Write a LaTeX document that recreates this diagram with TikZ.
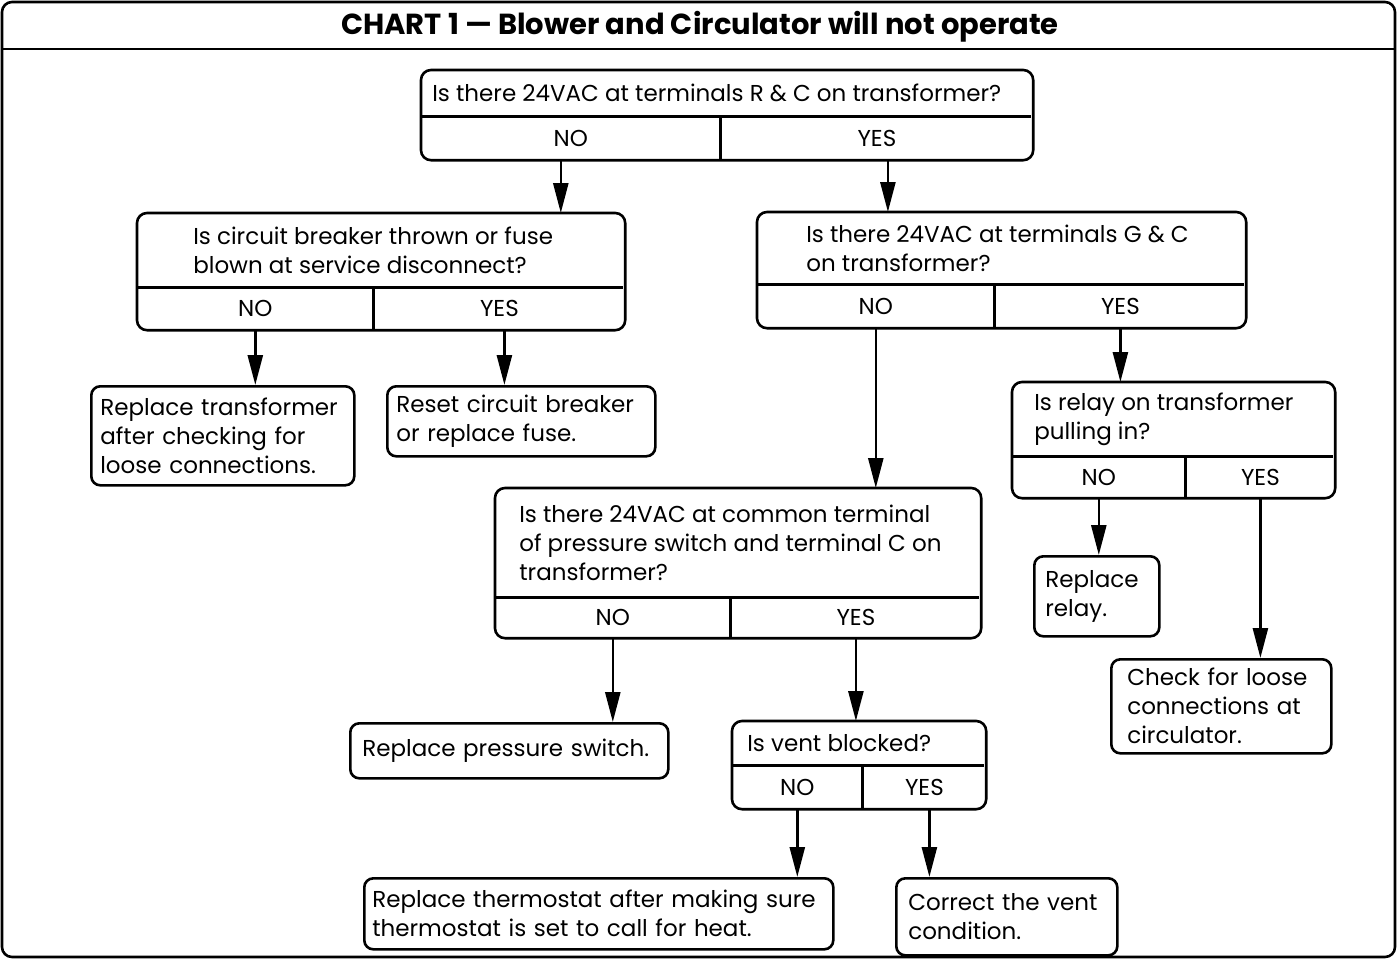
\documentclass[tikz,border=0pt]{standalone}
\usepackage{fontspec}
\setmainfont{Poppins}
\usetikzlibrary{arrows.meta,positioning}

\begin{document}
\begin{tikzpicture}[x=1pt,y=-1pt,line width=2.6pt,
          font=\fontsize{23}{29}\selectfont,
          frm/.style={draw, rounded corners=10pt},
          cell/.style={inner sep=0pt, anchor=north west},
          qt/.style={align=left, inner sep=0pt, anchor=west},
          lf/.style={draw, rounded corners=9pt, align=left, anchor=north west,
                     inner xsep=9pt, inner ysep=0pt},
          arr/.style={-{Triangle[length=30pt,width=15pt]}}]
        \useasboundingbox (0,0) rectangle (1397,959);
        \draw[frm] (2,2) rectangle (1395,957);
        \draw (2,49) -- (1395,49);
        \node[font=\bfseries\fontsize{29}{32}\selectfont] (title) at (700,27)
          {CHART 1 — Blower and Circulator will not operate};

        \node[cell, minimum width=607pt, minimum height=44pt] (q1) at (421,70) {};
        \node[qt] (q1txt) at ([xshift=10pt]q1.west)
          {Is there 24VAC at terminals R \& C on transformer?};
        \node[cell, minimum width=297pt, minimum height=41pt] (q1no) at (q1.south west) {NO};
        \node[cell, minimum width=310pt, minimum height=41pt] (q1yes) at (q1no.north east) {YES};
        \draw[frm] (q1.north west) rectangle (q1yes.south east);
        \draw (q1.south west) -- (q1.south east) (q1no.north east) -- (q1no.south east);

        \node[cell, minimum width=483pt, minimum height=72pt] (q2) at (137,213) {};
        \node[qt] (q2txt) at ([xshift=55pt]q2.west)
          {Is circuit breaker thrown or fuse\\blown at service disconnect?};
        \node[cell, minimum width=234pt, minimum height=40pt] (q2no) at (q2.south west) {NO};
        \node[cell, minimum width=249pt, minimum height=40pt] (q2yes) at (q2no.north east) {YES};
        \draw[frm] (q2.north west) rectangle (q2yes.south east);
        \draw (q2.south west) -- (q2.south east) (q2no.north east) -- (q2no.south east);

        \node[cell, minimum width=484pt, minimum height=70pt] (q3) at (757,212) {};
        \node[qt] (q3txt) at ([xshift=48pt]q3.west)
          {Is there 24VAC at terminals G \& C\\on transformer?};
        \node[cell, minimum width=235pt, minimum height=41pt] (q3no) at (q3.south west) {NO};
        \node[cell, minimum width=249pt, minimum height=41pt] (q3yes) at (q3no.north east) {YES};
        \draw[frm] (q3.north west) rectangle (q3yes.south east);
        \draw (q3.south west) -- (q3.south east) (q3no.north east) -- (q3no.south east);

        \node[cell, minimum width=318pt, minimum height=72pt] (q4) at (1012,382) {};
        \node[qt] (q4txt) at ([xshift=21pt]q4.west)
          {Is relay on transformer\\pulling in?};
        \node[cell, minimum width=171pt, minimum height=39pt] (q4no) at (q4.south west) {NO};
        \node[cell, minimum width=147pt, minimum height=39pt] (q4yes) at (q4no.north east) {YES};
        \draw[frm] (q4.north west) rectangle (q4yes.south east);
        \draw (q4.south west) -- (q4.south east) (q4no.north east) -- (q4no.south east);

        \node[cell, minimum width=481pt, minimum height=107pt] (q5) at (495,488) {};
        \node[qt] (q5txt) at ([xshift=23pt]q5.west)
          {Is there 24VAC at common terminal\\of pressure switch and terminal C on\\transformer?};
        \node[cell, minimum width=233pt, minimum height=38pt] (q5no) at (q5.south west) {NO};
        \node[cell, minimum width=248pt, minimum height=38pt] (q5yes) at (q5no.north east) {YES};
        \draw[frm] (q5.north west) rectangle (q5yes.south east);
        \draw (q5.south west) -- (q5.south east) (q5no.north east) -- (q5no.south east);

        \node[cell, minimum width=249pt, minimum height=42pt] (q6) at (732,721) {};
        \node[qt] (q6txt) at ([xshift=14pt]q6.west) {Is vent blocked?};
        \node[cell, minimum width=128pt, minimum height=41pt] (q6no) at (q6.south west) {NO};
        \node[cell, minimum width=121pt, minimum height=41pt] (q6yes) at (q6no.north east) {YES};
        \draw[frm] (q6.north west) rectangle (q6yes.south east);
        \draw (q6.south west) -- (q6.south east) (q6no.north east) -- (q6no.south east);

        \node[lf, text width=245pt, minimum height=99pt] (xfmr) at (90,385)
          {Replace transformer\\after checking for\\loose connections.};
        \node[lf, text width=250pt, minimum height=70pt] (reset) at (386,385)
          {Reset circuit breaker\\or replace fuse.};
        \node[lf, inner xsep=11pt, text width=103pt, minimum height=80pt] (relay) at (1033,555)
          {Replace\\relay.};
        \node[lf, inner xsep=16pt, text width=188pt, minimum height=94pt] (loose) at (1110,658)
          {Check for loose\\connections at\\circulator.};
        \node[lf, inner xsep=12pt, text width=294pt, minimum height=55pt] (prsw) at (349,722)
          {Replace pressure switch.};
        \node[lf, inner xsep=8pt, text width=453pt, minimum height=71pt] (tstat) at (363,877)
          {Replace thermostat after making sure\\thermostat is set to call for heat.};
        \node[lf, inner xsep=12pt, text width=197pt, minimum height=77pt] (vent) at (895,877)
          {Correct the vent\\condition.};

        \draw[arr] ([xshift=-10pt]q1no.south) -- ([xshift=-10pt]q1no.south |- q2.north);
        \draw[arr] ([xshift=11pt]q1yes.south) -- ([xshift=11pt]q1yes.south |- q3.north);
        \draw[arr] (q2no.south) -- (q2no.south |- xfmr.north);
        \draw[arr] ([xshift=5pt]q2yes.south) -- ([xshift=5pt]q2yes.south |- reset.north);
        \draw[arr] (q3no.south) -- (q3no.south |- q5.north);
        \draw[arr] (q3yes.south) -- (q3yes.south |- q4.north);
        \draw[arr] (q4no.south) -- (q4no.south |- relay.north);
        \draw[arr] (q4yes.south) -- (q4yes.south |- loose.north);
        \draw[arr] (q5no.south) -- (q5no.south |- prsw.north);
        \draw[arr] (q5yes.south) -- (q5yes.south |- q6.north);
        \draw[arr] (q6no.south) -- (q6no.south |- tstat.north);
        \draw[arr] ([xshift=5pt]q6yes.south) -- ([xshift=5pt]q6yes.south |- vent.north);
      \end{tikzpicture}
\end{document}
